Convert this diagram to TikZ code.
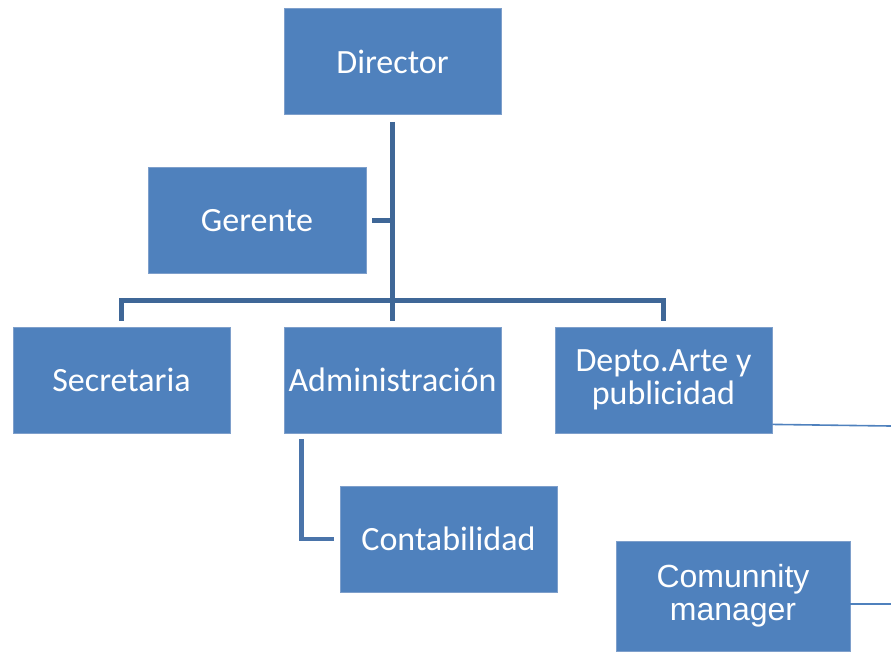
\documentclass[tikz,border=0pt]{standalone}
\usepackage{fontspec}
\setmainfont{Carlito}
\newfontfamily\arialf{Liberation Sans}
\definecolor{boxblue}{HTML}{4F81BD}
\definecolor{boxedge}{HTML}{7E9FCB}
\definecolor{trunk}{HTML}{3F6797}
\definecolor{subline}{HTML}{4A74AA}
\tikzset{
  orgbox/.style={fill=boxblue, draw=boxedge, line width=0.6pt, text=white,
    align=center, inner sep=0pt, minimum width=162.75pt, minimum height=79.5pt,
    font=\fontsize{25.5}{24}\selectfont},
  thickline/.style={draw=trunk, line width=3.75pt},
  thinline/.style={draw=boxblue, line width=1.2pt}
}
\begin{document}
\begin{tikzpicture}[x=0.75pt, y=-0.75pt]
\useasboundingbox (0,0) rectangle (891,651);
\node[orgbox] (dir) at (392.5,61.5) {Director};
\node[orgbox, minimum width=163.5pt] (ger) at (257,220.5) {Gerente};
\node[orgbox] (sec) at (121.5,380) {Secretaria};
\node[orgbox] (adm) at (392.5,380) {Administración};
\node[orgbox, font=\fontsize{25.5}{24.5}\selectfont] (dep) at (663.5,380) {\raisebox{-3pt}{\parbox{150pt}{\centering Depto.Arte y\\publicidad}}};
\node[orgbox] (con) at (448.5,539) {Contabilidad};
\node[orgbox, minimum width=175.5pt, minimum height=82.5pt,
  font=\arialf\fontsize{24}{25}\selectfont] (com) at (733,596) {\raisebox{-3pt}{\parbox{170pt}{\centering Comunnity\\manager}}};
\coordinate (bus) at (392,300);
\coordinate (endA) at (891,426);
\coordinate (endB) at (891,604);
% trunk
\draw[thickline] ([yshift=-5.25pt]dir.south) -- ([yshift=4.5pt]adm.north);
\draw[thickline] ([xshift=4.5pt]ger.east) -- (ger.east -| dir.south);
\draw[thickline] ([yshift=4.5pt]sec.north) -- (sec.north |- bus) -- (dep.north |- bus) -- ([yshift=4.5pt]dep.north);
% contabilidad
\draw[draw=subline, line width=3.6pt] ([xshift=13.5pt,yshift=-4.5pt]adm.south west) |- ([xshift=-4.5pt]con.west);
% thin lines to the right
\draw[thinline] ([yshift=6.75pt]dep.south east) -- (endA);
\draw[thinline] ([yshift=-6pt]com.east) -- (endB);
\end{tikzpicture}
\end{document}
